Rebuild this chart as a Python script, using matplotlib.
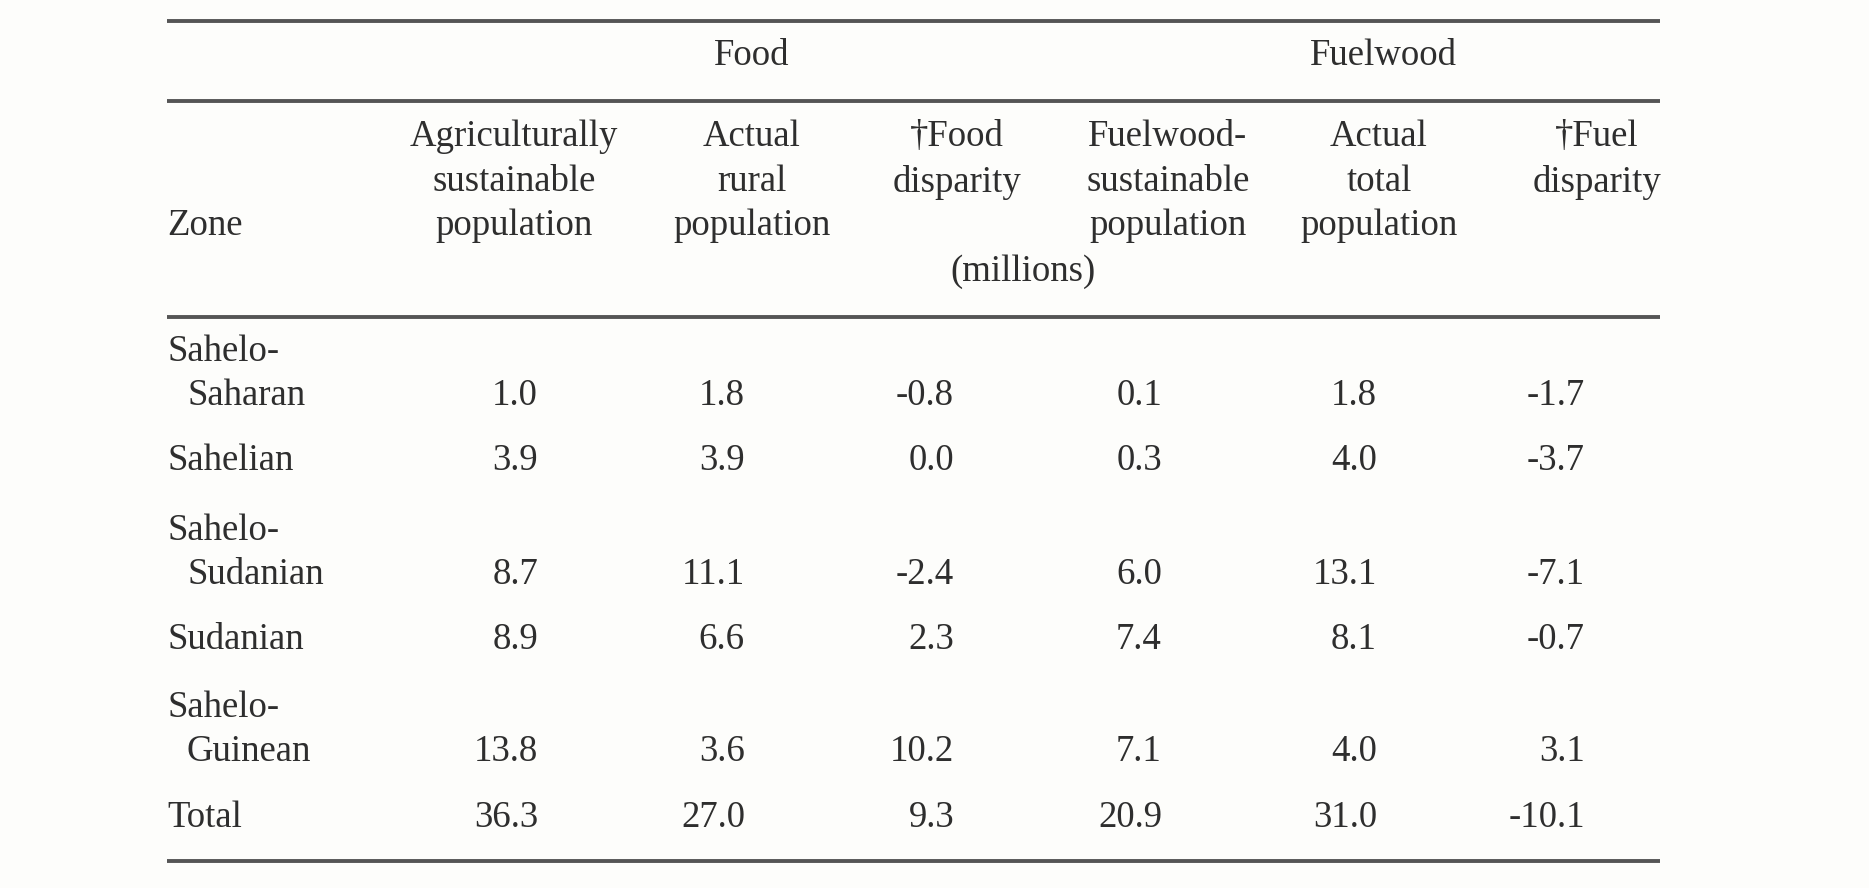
import matplotlib.pyplot as plt

# table contents
zones = [["Sahelo-", "Saharan"], ["Sahelian"], ["Sahelo-", "Sudanian"],
         ["Sudanian"], ["Sahelo-", "Guinean"], ["Total"]]
agri_sust = [1.0, 3.9, 8.7, 8.9, 13.8, 36.3]
rural_pop = [1.8, 3.9, 11.1, 6.6, 3.6, 27.0]
food_disp = [-0.8, 0.0, -2.4, 2.3, 10.2, 9.3]
fuel_sust = [0.1, 0.3, 6.0, 7.4, 7.1, 20.9]
total_pop = [1.8, 4.0, 13.1, 8.1, 4.0, 31.0]
fuel_disp = [-1.7, -3.7, -7.1, -0.7, 3.1, -10.1]

group_labels = ["Food", "Fuelwood"]
col_headers = [["Agriculturally", "sustainable", "population"],
               ["Actual", "rural", "population"],
               ["\u2020Food", "disparity"],
               ["Fuelwood-", "sustainable", "population"],
               ["Actual", "total", "population"],
               ["\u2020Fuel", "disparity"]]
unit_label = "(millions)"

columns = [agri_sust, rural_pop, food_disp, fuel_sust, total_pop, fuel_disp]

# layout (pixel coords of the 1869x888 canvas)
W, H = 1869, 888
x_left, x_right = 167, 1660
col_right = [538, 745, 954, 1162, 1377, 1585]
col_center = [514, 752, 957, 1168, 1379, 1597]
group_x = [752, 1383]
row_y = [396, 461, 575, 640, 752, 818]
line_gap = 44
head_y = [137, 182, 226]

ink = "#2e2e2e"
rule = "#555555"
fs = 26.5

plt.rcParams['font.family'] = ['Liberation Serif', 'DejaVu Serif']

fig = plt.figure(figsize=(W / 100, H / 100), dpi=100, facecolor="#fdfdfb")
ax = fig.add_axes([0, 0, 1, 1])
ax.set_xlim(0, W)
ax.set_ylim(H, 0)
ax.axis("off")

ax.hlines([21, 101, 317, 861], x_left, x_right, color=rule, lw=2.8)

for label, gx in zip(group_labels, group_x):
    ax.text(gx, 56, label, ha="center", va="center", fontsize=fs, color=ink)

for lines, cx in zip(col_headers, col_center):
    for txt, y in zip(lines, head_y):
        ax.text(cx, y, txt, ha="center", va="center", fontsize=fs, color=ink)

ax.text(x_left, head_y[2], "Zone", ha="left", va="center", fontsize=fs, color=ink)
ax.text(1023, 272, unit_label, ha="center", va="center", fontsize=fs, color=ink)

for zone, y in zip(zones, row_y):
    if len(zone) == 2:
        ax.text(x_left, y - line_gap, zone[0], ha="left", va="center",
                fontsize=fs, color=ink)
        ax.text(x_left + 20, y, zone[1], ha="left", va="center",
                fontsize=fs, color=ink)
    else:
        ax.text(x_left, y, zone[0], ha="left", va="center",
                fontsize=fs, color=ink)

for values, xr in zip(columns, col_right):
    for v, y in zip(values, row_y):
        ax.text(xr, y, "%.1f" % v, ha="right", va="center",
                fontsize=fs, color=ink)

fig.savefig("out.png", dpi=100, facecolor=fig.get_facecolor())
